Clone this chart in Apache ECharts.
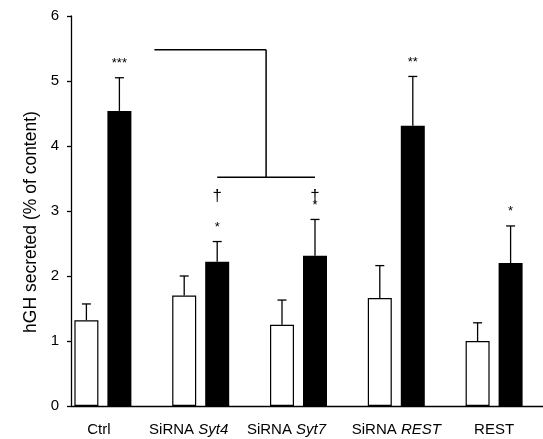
<!DOCTYPE html>
<html>
<head>
<meta charset="utf-8">
<script src="https://cdn.jsdelivr.net/npm/echarts@6/dist/echarts.min.js"></script>
<style>
  html, body { margin: 0; padding: 0; background: #fff; }
  #chart { width: 543px; height: 439px; }
</style>
</head>
<body>
<div id="chart"></div>
<script>
// groups along the x axis
const categories = ['Ctrl', 'SiRNA {i|Syt4}', 'SiRNA {i|Syt7}', 'SiRNA {i|REST}', 'REST']
// white bars (basal) and black bars (stimulated), with upper error-bar ends
const whiteVals = [1.32, 1.70, 1.25, 1.66, 1.00]
const whiteErr = [1.57, 2.00, 1.63, 2.16, 1.28]
const blackVals = [4.54, 2.22, 2.31, 4.31, 2.20]
const blackErr = [5.05, 2.53, 2.87, 5.07, 2.77]
// significance marks over the black bars
const stars = ['***', '*', '*', '**', '*']
const daggers = ['', '\u2020', '\u2020', '', '']
const daggerLevel = 3.23
// bracket levels (upper arm, lower arm)
const bracketLevels = [5.48, 3.52]
const yTicks = [0, 1, 2, 3, 4, 5, 6]

const FONT = 'Liberation Sans, Arial, Helvetica, sans-serif'
const BAR_W = 24
const BAR_GAP = 9
const OFF = (BAR_W + BAR_GAP) / 2
// small horizontal nudges of the x labels (px, negative = left)
const labelShift = [-4, -12, -12, 0, 0]

const chart = echarts.init(document.getElementById('chart'))

const errSeries = (vals, errs, sign) => ({
  type: 'custom',
  xAxisIndex: 0,
  yAxisIndex: 0,
  silent: true,
  z: 5,
  data: vals.map((v, i) => [i, v, errs[i]]),
  renderItem: (params, api) => {
    const base = api.coord([api.value(0), api.value(1)])
    const top = api.coord([api.value(0), api.value(2)])
    const cx = base[0] + sign * OFF
    const st = { stroke: '#000', lineWidth: 1.3 }
    return {
      type: 'group',
      children: [
        { type: 'line', shape: { x1: cx, y1: base[1], x2: cx, y2: top[1] }, style: st },
        { type: 'line', shape: { x1: cx - 4.5, y1: top[1], x2: cx + 4.5, y2: top[1] }, style: st },
      ],
    }
  },
})

const option = {
  animation: false,
  backgroundColor: '#fff',
  grid: [
    { left: 54, right: -11, top: 16, bottom: 33 },
    { left: 71, right: 0, top: 16, bottom: 33 },
  ],
  xAxis: [
    {
      type: 'category',
      gridIndex: 0,
      data: categories.map((c, i) => {
        const s = labelShift[i]
        return {
          value: c,
          textStyle: { padding: [0, s < 0 ? -2 * s : 0, 0, s > 0 ? 2 * s : 0] },
        }
      }),
      axisLine: { show: false },
      axisTick: { show: false },
      axisLabel: {
        margin: 16,
        color: '#000',
        fontFamily: FONT,
        fontSize: 15,
        interval: 0,
        rich: { i: { fontStyle: 'italic', fontFamily: FONT, fontSize: 15, color: '#000' } },
      },
    },
    {
      type: 'value',
      gridIndex: 1,
      min: 0,
      max: 1,
      axisLine: { show: true, onZero: false, lineStyle: { color: '#000', width: 1.3 } },
      axisTick: { show: false },
      axisLabel: { show: false },
      splitLine: { show: false },
    },
  ],
  yAxis: [
    {
      type: 'value',
      gridIndex: 0,
      min: yTicks[0],
      max: yTicks[yTicks.length - 1],
      interval: 1,
      offset: -17,
      name: 'hGH secreted (% of content)',
      nameLocation: 'middle',
      nameGap: 28,
      nameTextStyle: { fontFamily: FONT, fontSize: 17.5, color: '#000', padding: [0, 22, 0, 0] },
      axisLine: { show: true, lineStyle: { color: '#000', width: 1.3 } },
      axisTick: { show: true, length: 4, inside: false, lineStyle: { color: '#000', width: 1.3 } },
      axisLabel: { color: '#000', fontFamily: FONT, fontSize: 15, margin: 12 },
      splitLine: { show: false },
    },
    {
      type: 'value',
      gridIndex: 1,
      show: false,
    },
  ],
  series: [
    {
      type: 'bar',
      xAxisIndex: 0,
      yAxisIndex: 0,
      data: whiteVals,
      barWidth: BAR_W,
      barGap: (BAR_GAP / BAR_W * 100) + '%',
      itemStyle: { color: '#fff', borderColor: '#000', borderWidth: 1.2 },
      silent: true,
    },
    {
      type: 'bar',
      xAxisIndex: 0,
      yAxisIndex: 0,
      data: blackVals,
      barWidth: BAR_W,
      itemStyle: { color: '#000' },
      silent: true,
    },
    errSeries(whiteVals, whiteErr, -1),
    errSeries(blackVals, blackErr, 1),
    {
      // stars and daggers
      type: 'custom',
      xAxisIndex: 0,
      yAxisIndex: 0,
      silent: true,
      z: 6,
      data: blackErr.map((e, i) => [i, e]),
      renderItem: (params, api) => {
        const i = api.value(0)
        const p = api.coord([i, api.value(1)])
        const d = api.coord([i, daggerLevel])
        const cx = p[0] + OFF
        const children = [
          {
            type: 'text',
            style: {
              x: cx, y: p[1] - 8, text: stars[i],
              fill: '#000', font: '13px ' + FONT,
              align: 'center', verticalAlign: 'bottom',
            },
          },
        ]
        if (daggers[i]) {
          children.push({
            type: 'text',
            style: {
              x: cx, y: d[1], text: daggers[i],
              fill: '#000', font: '17px ' + FONT,
              align: 'center', verticalAlign: 'middle',
            },
          })
        }
        return { type: 'group', children }
      },
    },
    {
      // bracket
      type: 'custom',
      xAxisIndex: 0,
      yAxisIndex: 0,
      silent: true,
      z: 6,
      data: [[0, bracketLevels[0], bracketLevels[1]]],
      renderItem: (params, api) => {
        const a = api.coord([0, api.value(1)])
        const b = api.coord([1, api.value(2)])
        const c = api.coord([2, api.value(2)])
        const bx1 = b[0] + OFF
        const bx2 = c[0] + OFF
        const mid = (bx1 + bx2) / 2
        const st = { stroke: '#000', lineWidth: 1.5 }
        return {
          type: 'group',
          children: [
            { type: 'line', shape: { x1: a[0] + OFF + 35, y1: a[1], x2: mid, y2: a[1] }, style: st },
            { type: 'line', shape: { x1: mid, y1: a[1], x2: mid, y2: b[1] }, style: st },
            { type: 'line', shape: { x1: bx1, y1: b[1], x2: bx2, y2: b[1] }, style: st },
          ],
        }
      },
    },
  ],
}

chart.setOption(option)
</script>
</body>
</html>
